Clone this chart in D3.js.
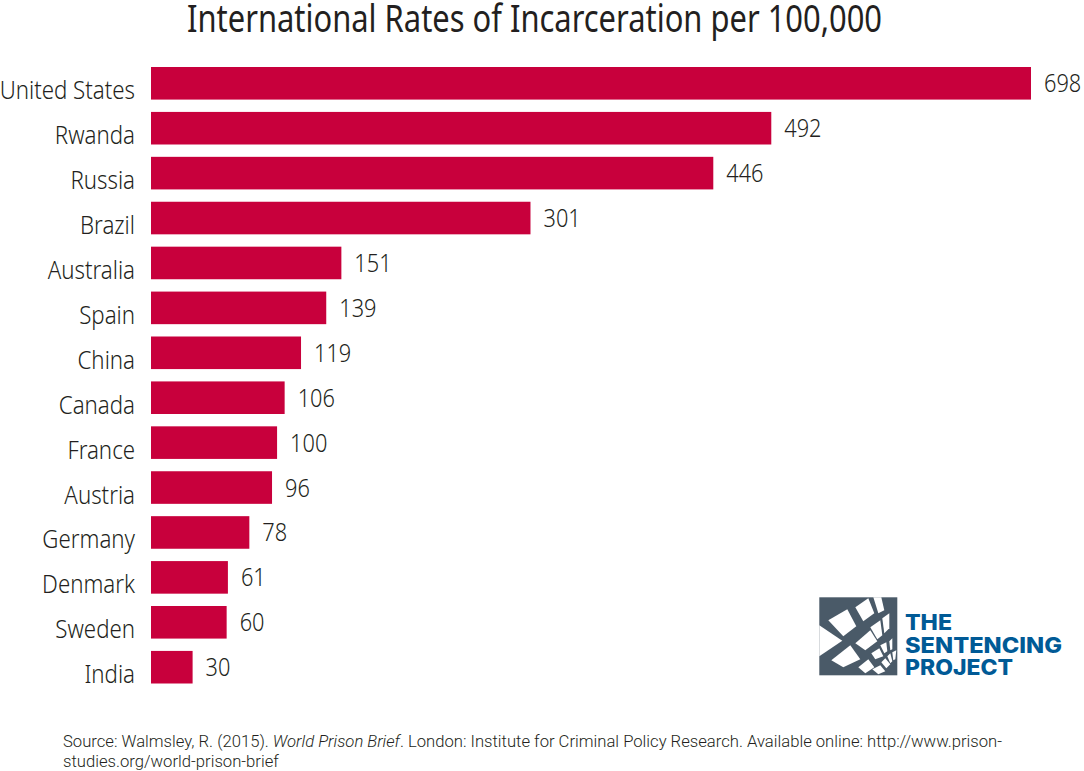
<!DOCTYPE html>
<html>
<head>
<meta charset="utf-8">
<script src="https://cdn.jsdelivr.net/npm/d3@7"></script>
<style>
    body { margin: 0; background: #fff; }
    svg { display: block; }
    .cat-axis text { font-family: "Noto Sans"; font-weight: 300; font-size: 25px; fill: #231f20; }
    .bar-label { font-family: "Noto Sans"; font-weight: 300; font-size: 25px; fill: #231f20; }
    .source { font-family: Roboto; font-weight: 300; font-size: 16.65px; fill: #231f20; }
</style>
</head>
<body>
<div id="chart"></div>
<script>
const categories = ["United States", "Rwanda", "Russia", "Brazil", "Australia", "Spain", "China",
    "Canada", "France", "Austria", "Germany", "Denmark", "Sweden", "India"];
const values = [698, 492, 446, 301, 151, 139, 119, 106, 100, 96, 78, 61, 60, 30];
// the India bar is drawn longer than its label in the picture
const barLengths = [698, 492, 446, 301, 151, 139, 119, 106, 100, 96, 78, 61, 60, 33];

const titleText = "International Rates of Incarceration per 100,000";
const sourceLines = [
    [["Source: Walmsley, R. (2015). ", false], ["World Prison Brief", true],
     [". London: Institute for Criminal Policy Research. Available online: http://www.prison-", false]],
    [["studies.org/world-prison-brief", false]]
];
const logoWords = ["THE", "SENTENCING", "PROJECT"];

const width = 1084, height = 771;

const svg = d3.select("#chart").append("svg")
    .attr("width", width)
    .attr("height", height);

const xScale = d3.scaleLinear()
    .domain([0, 698])
    .range([151, 1031]);

const yScale = d3.scaleBand()
    .domain(categories)
    .range([67, 683.5])
    .paddingInner(0.2746);

svg.append("text")
    .attr("x", 187)
    .attr("y", 32)
    .attr("textLength", 695)
    .attr("lengthAdjust", "spacingAndGlyphs")
    .style("font-family", "Noto Sans")
    .style("font-size", "37.5px")
    .style("fill", "#231f20")
    .text(titleText);

svg.selectAll("rect.bar")
    .data(categories)
    .enter()
    .append("rect")
    .attr("class", "bar")
    .attr("x", xScale(0))
    .attr("y", d => yScale(d))
    .attr("width", (d, i) => xScale(barLengths[i]) - xScale(0))
    .attr("height", yScale.bandwidth())
    .attr("fill", "#c8003c");

const yAxis = d3.axisLeft(yScale).tickSize(0).tickPadding(0);
const axisG = svg.append("g")
    .attr("class", "cat-axis")
    .attr("transform", "translate(135, 0)")
    .call(yAxis);
axisG.select(".domain").remove();
// labels sit low against the bars and are narrower than Noto Sans
axisG.selectAll("text")
    .attr("dy", "16px")
    .attr("transform", "scale(0.89, 1)");

svg.selectAll("text.bar-label")
    .data(categories)
    .enter()
    .append("text")
    .attr("class", "bar-label")
    .attr("transform", (d, i) => `translate(${xScale(barLengths[i]) + 13}, ${yScale(d) + yScale.bandwidth() / 2 + 9}) scale(0.87, 1)`)
    .text((d, i) => values[i]);

// source note, two lines
sourceLines.forEach((line, i) => {
    const t = svg.append("text")
        .attr("class", "source")
        .attr("x", 63)
        .attr("y", 747 + i * 20);
    line.forEach(part => {
        t.append("tspan")
            .style("font-style", part[1] ? "italic" : "normal")
            .text(part[0]);
    });
});

// logo mark
const logo = svg.append("g").attr("class", "logo");
const logoPanes = [
    [[0, 28], [23, 43.5], [0, 59]],
    [[9, 23], [28, 12], [37, 29], [24, 39]],
    [[36, 10], [49, 1], [55, 16], [44, 24]],
    [[54, 0], [62, 0], [65, 13], [59, 16]],
    [[36, 46], [51, 33], [58, 44], [46, 53]],
    [[51, 30], [61, 23], [63, 38], [58, 42]],
    [[63, 21], [70, 16], [70, 31], [65, 36]],
    [[12, 63], [31, 48], [41, 62], [24, 70]],
    [[39, 70], [49, 62], [55, 70], [46, 76]],
    [[52, 56], [60, 51], [64, 59], [56, 62]],
    [[61, 48], [67, 45], [68, 54], [65, 56]],
    [[70, 44], [73, 41], [73, 52], [71, 53]],
    [[53, 72], [61, 68], [66, 74], [59, 77]],
    [[62, 65], [66, 61], [71, 67], [67, 71]],
    [[68, 59], [71, 56], [73, 64], [71, 66]],
    [[73, 55], [77, 53], [76, 62], [74, 63]]
];
logo.append("rect")
    .attr("x", 819.3).attr("y", 597.3)
    .attr("width", 78).attr("height", 78)
    .attr("fill", "#4a5a68");
logo.selectAll("polygon")
    .data(logoPanes)
    .enter()
    .append("polygon")
    .attr("transform", "translate(819.3, 597.3)")
    .attr("points", d => d.join(" "))
    .attr("fill", "#fff");
logo.selectAll("text")
    .data(logoWords)
    .enter()
    .append("text")
    .attr("x", 905)
    .attr("y", (d, i) => 630 + i * 22.5)
    .attr("textLength", (d, i) => [47, 157, 108][i])
    .attr("lengthAdjust", "spacingAndGlyphs")
    .style("font-family", "Inter")
    .style("font-weight", 800)
    .style("font-size", "21px")
    .style("fill", "#005a96")
    .text(d => d);
</script>
</body>
</html>
